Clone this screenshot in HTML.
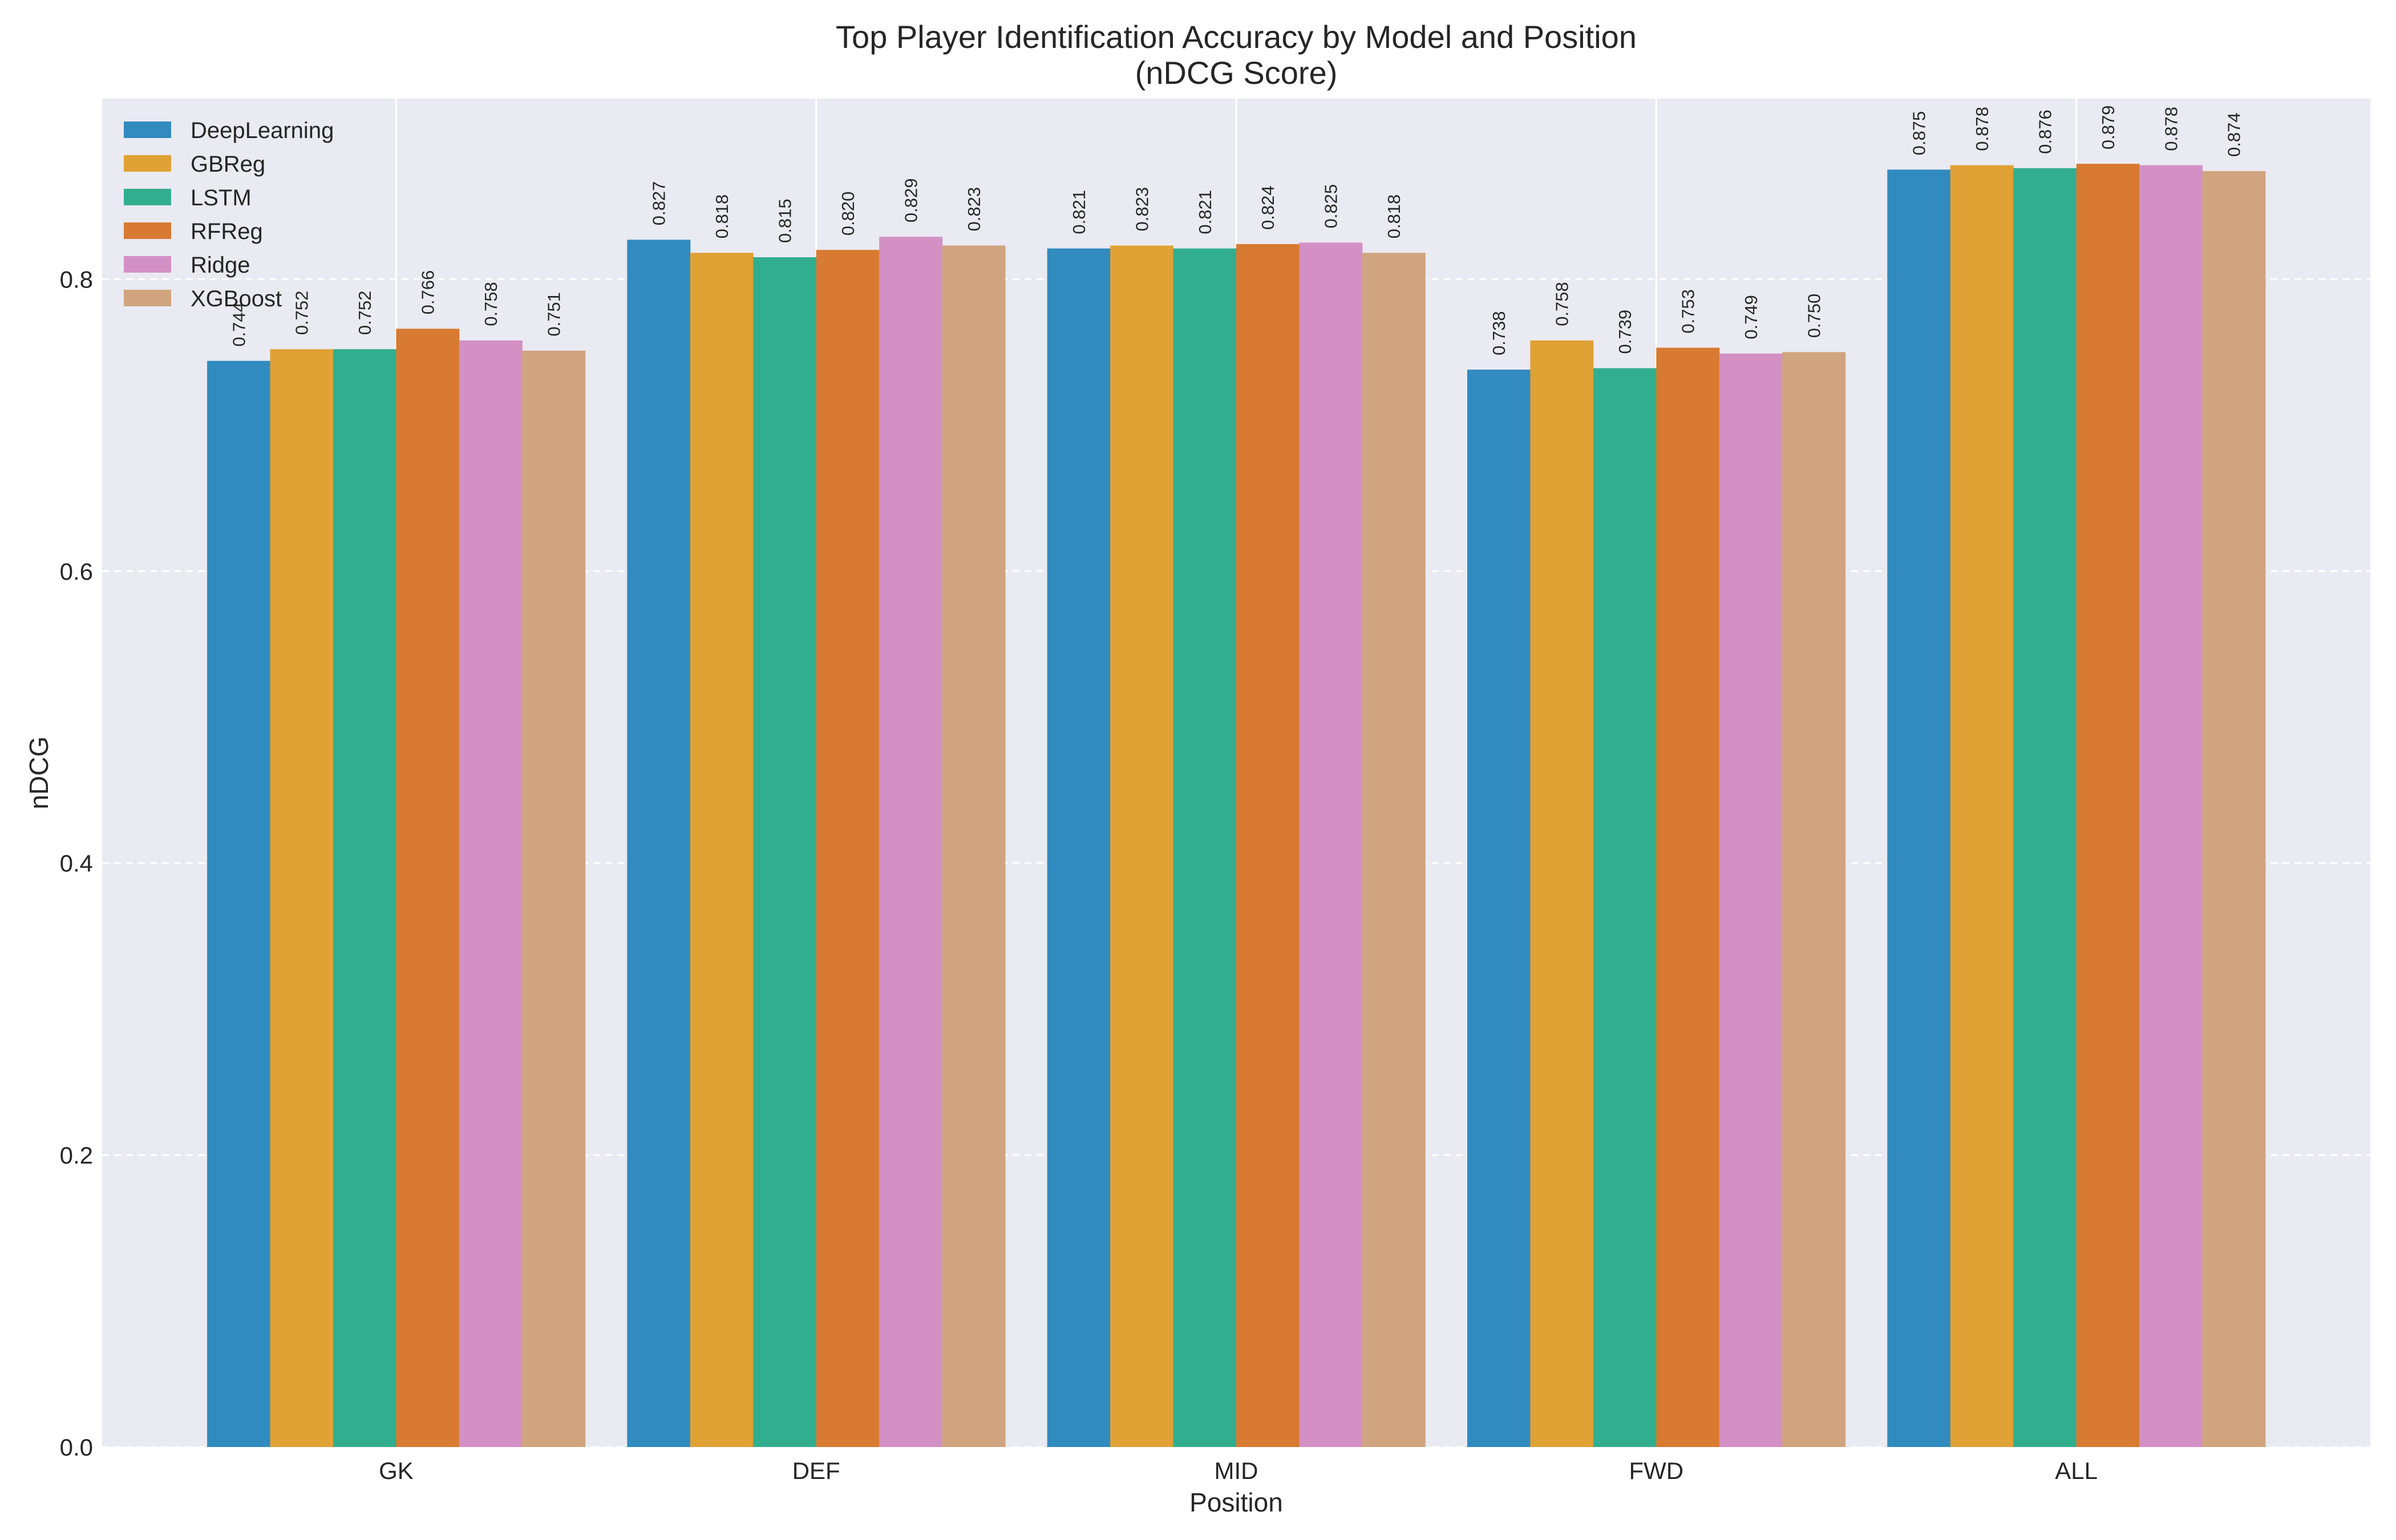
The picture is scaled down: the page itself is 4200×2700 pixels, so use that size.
<!DOCTYPE html>
<html><head><meta charset="utf-8"><style>
html,body{margin:0;padding:0;background:#fff;}
svg{display:block;font-family:"Liberation Sans",Arial,sans-serif;}
</style></head><body>
<svg id="chart" width="4200" height="2700" viewBox="0 0 4200 2700" xmlns="http://www.w3.org/2000/svg">
<rect x="0" y="0" width="4200" height="2700" fill="#ffffff"/>
<text x="2167" y="84" font-size="56" text-anchor="middle" fill="#262626">Top Player Identification Accuracy by Model and Position</text>
<text x="2167" y="147" font-size="56" text-anchor="middle" fill="#262626">(nDCG Score)</text>
<g id="plot"></g>
<text x="2167" y="2650" font-size="46" text-anchor="middle" fill="#262626">Position</text>
<text x="0" y="0" font-size="46" text-anchor="middle" fill="#262626" transform="translate(84,1355) rotate(-90)">nDCG</text>
<g id="legend"></g>
</svg>
<script>
const categories = ["GK","DEF","MID","FWD","ALL"];
const models = ["DeepLearning","GBReg","LSTM","RFReg","Ridge","XGBoost"];
const deepLearning = [0.744,0.827,0.821,0.738,0.875];
const gbReg = [0.752,0.818,0.823,0.758,0.878];
const lstm = [0.752,0.815,0.821,0.739,0.876];
const rfReg = [0.766,0.820,0.824,0.753,0.879];
const ridge = [0.758,0.829,0.825,0.749,0.878];
const xgBoost = [0.751,0.823,0.818,0.750,0.874];
const yTicks = [0.0,0.2,0.4,0.6,0.8];
const seriesValues = [deepLearning,gbReg,lstm,rfReg,ridge,xgBoost];
const colors = ["#318bbf","#e0a135","#31ae8e","#d87a31","#d390c4","#d0a47e"];

const NS="http://www.w3.org/2000/svg";
const L=179,R=4155,T=173,B=2537;
const xMin=-0.7,xMax=4.7,yMin=0,yMax=0.9236;
const xs=v=>L+(v-xMin)/(xMax-xMin)*(R-L);
const ys=v=>B-(v-yMin)/(yMax-yMin)*(B-T);
const barW=0.15;
function mk(tag,attrs,parent){const e=document.createElementNS(NS,tag);for(const k in attrs)e.setAttribute(k,attrs[k]);parent.appendChild(e);return e;}
const plot=document.getElementById('plot');
const bg=mk('rect',{x:L,y:T,width:R-L,height:B-T,fill:'#eaeaf2'},plot);


yTicks.forEach(t=>{
  const g=mk('line',{x1:L,x2:R,y1:ys(t),y2:ys(t),stroke:'#ffffff','stroke-width':3,'stroke-dasharray':'12,9'},plot);
  
  
  const lb=mk('text',{x:L-16,y:ys(t)+15,'font-size':42,'text-anchor':'end',fill:'#262626'},plot);
  lb.textContent=t.toFixed(1);
  
  
});
categories.forEach((c,i)=>{
  const g=mk('line',{x1:xs(i),x2:xs(i),y1:T,y2:B,stroke:'#ffffff','stroke-width':3},plot);
  
  
  const lb=mk('text',{x:xs(i),y:B+56,'font-size':42,'text-anchor':'middle',fill:'#262626'},plot);
  lb.textContent=c;
  
  
});
seriesValues.forEach((vals,s)=>{
  vals.forEach((v,i)=>{
    const cx=i+(s-2.5)*barW;
    const x0=xs(cx-barW/2),x1=xs(cx+barW/2);
    const r=mk('rect',{x:x0,y:ys(v),width:x1-x0+0.5,height:B-ys(v),fill:colors[s]},plot);
    
    
    const tx=xs(cx)+11,ty=ys(v)-25;
    const t=mk('text',{x:0,y:0,'font-size':31,'text-anchor':'start',fill:'#262626',transform:`translate(${tx},${ty}) rotate(-90)`},plot);
    t.textContent=v.toFixed(3);
    
    
  });
});
const leg=document.getElementById('legend');
models.forEach((m,k)=>{
  const y=213+k*59;
  const sw=mk('rect',{x:217,y:y,width:83,height:29,fill:colors[k]},leg);
  
  
  const t=mk('text',{x:334,y:y+29,'font-size':40,fill:'#262626'},leg);
  t.textContent=m;
  
  
});
</script>
</body></html>
